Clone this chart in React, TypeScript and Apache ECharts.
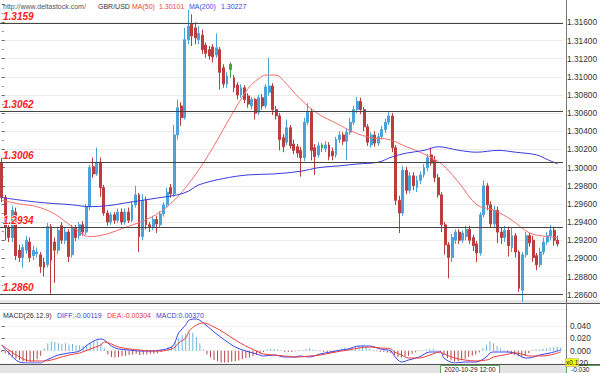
import React, { useEffect, useRef } from "react";
import * as echarts from "echarts";

// ---------------- DATA ----------------
const categoryCount = 160;
const categories: string[] = Array.from({ length: categoryCount }, (_, i) => String(i));

// [open, close, low, high]
const candles: number[][] = [
  [1.3005,1.2967,1.2962,1.3011],[1.2967,1.2934,1.2920,1.2970],[1.2934,1.2923,1.2918,1.2937],[1.2923,1.2953,1.2918,1.2958],
  [1.2951,1.2903,1.2898,1.2956],[1.2909,1.2901,1.2896,1.2915],[1.2901,1.2912,1.2890,1.2916],[1.2909,1.2920,1.2905,1.2925],
  [1.2918,1.2901,1.2896,1.2923],[1.2903,1.2909,1.2898,1.2914],[1.2905,1.2907,1.2901,1.2912],[1.2904,1.2891,1.2884,1.2907],
  [1.2896,1.2890,1.2880,1.2901],[1.2893,1.2935,1.2890,1.2939],[1.2935,1.2898,1.2861,1.2938],[1.2918,1.2909,1.2873,1.2923],
  [1.2909,1.2931,1.2905,1.2935],[1.2936,1.2920,1.2916,1.2940],[1.2920,1.2929,1.2916,1.2934],[1.2929,1.2902,1.2896,1.2932],
  [1.2904,1.2934,1.2901,1.2937],[1.2934,1.2923,1.2919,1.2937],[1.2925,1.2937,1.2921,1.2940],[1.2937,1.2929,1.2925,1.2941],
  [1.2929,1.2957,1.2926,1.2960],[1.2957,1.3000,1.2953,1.3003],[1.3001,1.2993,1.2989,1.3011],[1.2993,1.3006,1.2991,1.3022],
  [1.3006,1.2978,1.2968,1.3011],[1.2978,1.2950,1.2947,1.2981],[1.2950,1.2940,1.2936,1.2953],[1.2940,1.2948,1.2937,1.2951],
  [1.2948,1.2942,1.2938,1.2951],[1.2942,1.2951,1.2939,1.2955],[1.2951,1.2940,1.2937,1.2955],[1.2940,1.2951,1.2937,1.2955],
  [1.2951,1.2942,1.2939,1.2956],[1.2942,1.2959,1.2940,1.2963],[1.2959,1.2970,1.2956,1.2980],[1.2970,1.2924,1.2907,1.2972],
  [1.2924,1.2964,1.2920,1.2971],[1.2964,1.2937,1.2932,1.2968],[1.2937,1.2935,1.2929,1.2940],[1.2935,1.2943,1.2931,1.2947],
  [1.2943,1.2938,1.2928,1.2947],[1.2937,1.2949,1.2934,1.2952],[1.2949,1.2959,1.2946,1.2962],[1.2959,1.2973,1.2956,1.2978],
  [1.2978,1.2971,1.2967,1.2982],[1.2971,1.3036,1.2968,1.3047],[1.3036,1.3066,1.3031,1.3075],[1.3068,1.3055,1.3046,1.3072],
  [1.3055,1.3141,1.3053,1.3154],[1.3141,1.3156,1.3136,1.3174],[1.3158,1.3145,1.3134,1.3169],[1.3154,1.3143,1.3136,1.3160],
  [1.3141,1.3148,1.3136,1.3156],[1.3146,1.3130,1.3125,1.3152],[1.3135,1.3126,1.3121,1.3138],[1.3130,1.3123,1.3119,1.3134],
  [1.3133,1.3122,1.3116,1.3136],[1.3124,1.3132,1.3121,1.3148],[1.3130,1.3105,1.3086,1.3133],[1.3110,1.3092,1.3088,1.3114],
  [1.3092,1.3101,1.3088,1.3105],[1.3108,1.3114,1.3099,1.3116],[1.3099,1.3088,1.3083,1.3102],[1.3091,1.3080,1.3075,1.3094],
  [1.3080,1.3088,1.3077,1.3092],[1.3088,1.3075,1.3071,1.3091],[1.3079,1.3070,1.3066,1.3082],[1.3068,1.3075,1.3064,1.3078],
  [1.3075,1.3060,1.3053,1.3077],[1.3061,1.3077,1.3058,1.3080],[1.3077,1.3068,1.3064,1.3081],[1.3068,1.3089,1.3065,1.3092],
  [1.3083,1.3090,1.3079,1.3121],[1.3090,1.3064,1.3058,1.3093],[1.3064,1.3057,1.3053,1.3068],[1.3057,1.3031,1.3019,1.3060],
  [1.3033,1.3023,1.3017,1.3037],[1.3028,1.3044,1.3025,1.3053],[1.3044,1.3024,1.3021,1.3047],[1.3026,1.3019,1.3015,1.3031],
  [1.3023,1.3016,1.3011,1.3026],[1.3019,1.3011,1.2990,1.3023],[1.3011,1.3050,1.3007,1.3055],[1.3050,1.3061,1.3047,1.3071],
  [1.3061,1.3019,1.3008,1.3065],[1.3022,1.3012,1.2992,1.3026],[1.3014,1.3024,1.3011,1.3028],[1.3022,1.3025,1.3017,1.3027],
  [1.3021,1.3025,1.3017,1.3029],[1.3025,1.3012,1.3008,1.3028],[1.3018,1.3013,1.3008,1.3022],[1.3014,1.3031,1.3011,1.3034],
  [1.3031,1.3036,1.3027,1.3040],[1.3036,1.3029,1.3025,1.3039],[1.3029,1.3039,1.3008,1.3043],[1.3039,1.3050,1.3036,1.3055],
  [1.3050,1.3064,1.3047,1.3068],[1.3064,1.3073,1.3060,1.3078],[1.3073,1.3064,1.3059,1.3077],[1.3064,1.3045,1.3040,1.3067],
  [1.3045,1.3028,1.3024,1.3048],[1.3025,1.3036,1.3022,1.3039],[1.3036,1.3027,1.3023,1.3040],[1.3027,1.3034,1.3024,1.3038],
  [1.3034,1.3042,1.3031,1.3046],[1.3042,1.3050,1.3038,1.3054],[1.3050,1.3057,1.3047,1.3061],[1.3057,1.3022,1.3017,1.3060],
  [1.3022,1.2964,1.2959,1.3025],[1.2964,1.2950,1.2928,1.2969],[1.2950,1.2997,1.2947,1.3002],[1.2997,1.2975,1.2971,1.3001],
  [1.2975,1.2991,1.2972,1.2995],[1.2991,1.2980,1.2975,1.2995],[1.2978,1.2986,1.2973,1.2991],[1.2986,1.2992,1.2982,1.2996],
  [1.2992,1.3000,1.2989,1.3004],[1.3000,1.3011,1.2996,1.3015],[1.3014,1.3005,1.3002,1.3022],[1.3008,1.2989,1.2984,1.3013],
  [1.2989,1.2970,1.2967,1.2993],[1.2970,1.2937,1.2929,1.2973],[1.2937,1.2915,1.2904,1.2940],[1.2915,1.2901,1.2878,1.2918],
  [1.2901,1.2923,1.2896,1.2927],[1.2920,1.2929,1.2916,1.2932],[1.2929,1.2920,1.2916,1.2932],[1.2920,1.2928,1.2917,1.2931],
  [1.2924,1.2932,1.2920,1.2936],[1.2932,1.2920,1.2916,1.2936],[1.2923,1.2914,1.2908,1.2926],[1.2916,1.2906,1.2896,1.2919],
  [1.2906,1.2948,1.2903,1.2951],[1.2948,1.2980,1.2945,1.2986],[1.2980,1.2959,1.2953,1.2983],[1.2959,1.2938,1.2934,1.2963],
  [1.2938,1.2953,1.2934,1.2958],[1.2953,1.2929,1.2917,1.2957],[1.2929,1.2923,1.2916,1.2934],[1.2923,1.2931,1.2918,1.2936],
  [1.2931,1.2914,1.2902,1.2935],[1.2912,1.2925,1.2907,1.2934],[1.2925,1.2907,1.2901,1.2928],[1.2907,1.2867,1.2863,1.2909],
  [1.2865,1.2904,1.2852,1.2907],[1.2904,1.2925,1.2901,1.2929],[1.2925,1.2917,1.2913,1.2928],[1.2920,1.2901,1.2896,1.2925],
  [1.2903,1.2893,1.2887,1.2906],[1.2893,1.2907,1.2890,1.2912],[1.2907,1.2918,1.2904,1.2923],[1.2918,1.2925,1.2915,1.2929],
  [1.2925,1.2931,1.2920,1.2937],[1.2931,1.2920,1.2914,1.2935],[1.2920,1.2916,1.2913,1.2925],
];
const greenCandles: number[] = [65, 91];

const levels: number[] = [1.3159, 1.3062, 1.3006, 1.2934, 1.286];
const lastPrice = 1.2916;
const lastPriceLabel = "1.29160";

const priceMin = 1.286;
const priceMax = 1.318;
const priceStep = 0.002;

// [candle index, value]
const ma50: number[][] = [
  [0,1.2964],[5,1.2960],[10,1.2957],[15,1.2949],[20,1.2935],[25,1.2924],[30,1.2927],[35,1.2934],[40,1.2941],
  [45,1.2951],[50,1.2968],[55,1.2992],[60,1.3022],[65,1.3056],[70,1.3087],[73,1.3098],[75,1.3102],[78,1.3102],
  [80,1.3096],[85,1.3075],[90,1.3059],[95,1.3049],[100,1.3039],[105,1.3033],[110,1.3031],[115,1.3023],[120,1.3015],
  [125,1.3004],[130,1.2983],[135,1.2959],[140,1.2953],[145,1.2942],[150,1.2928],[155,1.2924],[158,1.2923],
];
const ma200: number[][] = [
  [0,1.2967],[10,1.2962],[20,1.2959],[25,1.2957],[30,1.2958],[35,1.2961],[40,1.2964],[45,1.2967],[50,1.2970],
  [53,1.2974],[56,1.2981],[63,1.2988],[70,1.2992],[77,1.2993],[85,1.2996],[90,1.3000],[96,1.3002],[101,1.3004],
  [107,1.3006],[111,1.3012],[115,1.3016],[120,1.3019],[124,1.3023],[130,1.3019],[135,1.3017],[141,1.3019],
  [146,1.3017],[152,1.3014],[155,1.3009],[158,1.3004],
];

// MACD panel (values as displayed on its axis, x0.1)
const macdHist: number[] = [
  -0.002,-0.004,-0.007,-0.010,-0.013,-0.015,-0.017,-0.018,-0.018,-0.017,-0.014,-0.008,
  0.004,0.012,0.015,0.014,0.012,0.011,0.012,0.010,0.011,0.009,0.009,0.008,0.010,0.013,0.015,0.016,0.012,0.004,
  -0.006,-0.010,-0.011,-0.010,-0.009,-0.008,-0.007,-0.006,-0.005,-0.007,-0.006,-0.006,-0.005,-0.005,-0.004,-0.002,
  0.002,0.006,0.008,0.014,0.020,0.025,0.028,0.030,0.029,0.022,0.012,0.002,
  -0.006,-0.011,-0.015,-0.017,-0.019,-0.019,-0.019,-0.018,-0.017,-0.016,-0.014,-0.012,-0.011,-0.009,-0.007,-0.005,-0.002,
  0.002,0.003,0.003,0.002,0.001,-0.002,-0.002,-0.002,-0.001,-0.001,0.001,0.003,0.004,0.002,0.001,
  -0.001,-0.002,-0.003,-0.003,-0.002,0.002,0.004,0.005,0.004,0.006,0.007,0.008,0.009,0.006,0.003,0.001,
  -0.001,-0.002,-0.002,-0.003,-0.004,-0.007,-0.010,-0.011,-0.009,-0.008,-0.005,-0.003,-0.001,
  0.001,0.002,0.003,0.003,0.001,-0.002,-0.007,-0.012,-0.016,-0.018,-0.017,-0.015,-0.013,-0.010,-0.008,-0.006,-0.003,
  0.004,0.010,0.015,0.012,0.008,0.004,0.001,-0.002,-0.005,-0.007,-0.009,-0.010,-0.008,-0.004,
  0.001,0.002,0.002,0.003,0.004,0.005,0.006,0.006,0.005,
];
const diff: number[][] = [
  [0,0.0092],[2,-0.0037],[5,-0.0183],[8,-0.0199],[11,-0.0199],[12,-0.0167],[14,-0.0118],[16,-0.0070],[19,-0.0037],
  [22,-0.0005],[25,0.0125],[28,0.0189],[29,0.0173],[31,0.0076],[33,0.0028],[36,0.0011],[39,-0.0005],[42,-0.0005],
  [45,0.0011],[48,0.0060],[49,0.0141],[50,0.0287],[52,0.0416],[53,0.0497],[55,0.0513],[57,0.0449],[60,0.0303],
  [63,0.0173],[66,0.0060],[69,-0.0005],[72,-0.0053],[74,-0.0086],[77,-0.0070],[80,-0.0102],[83,-0.0102],[84,-0.0086],
  [87,-0.0102],[90,-0.0053],[93,-0.0021],[96,0.0011],[98,0.0028],[101,0.0076],[104,0.0076],[107,0.0028],[110,-0.0005],
  [111,-0.0086],[113,-0.0183],[115,-0.0151],[118,-0.0102],[121,-0.0021],[124,-0.0021],[125,-0.0118],[128,-0.0199],
  [131,-0.0183],[134,-0.0183],[137,-0.0102],[138,-0.0037],[139,-0.0021],[142,-0.0021],[145,-0.0037],[148,-0.0118],
  [149,-0.0118],[152,-0.0070],[155,-0.0037],[158,0.0011],
];
const dea: number[][] = [
  [0,0.0092],[2,0.0011],[5,-0.0102],[8,-0.0167],[11,-0.0167],[12,-0.0167],[14,-0.0151],[16,-0.0118],[19,-0.0070],
  [22,-0.0037],[25,0.0028],[28,0.0092],[29,0.0141],[31,0.0108],[33,0.0060],[36,0.0028],[39,0.0011],[42,-0.0005],
  [45,-0.0005],[48,0.0028],[49,0.0060],[50,0.0125],[52,0.0206],[53,0.0319],[55,0.0416],[57,0.0449],[60,0.0384],
  [63,0.0287],[66,0.0173],[69,0.0076],[72,-0.0005],[74,-0.0053],[77,-0.0070],[80,-0.0086],[83,-0.0102],[84,-0.0102],
  [87,-0.0086],[90,-0.0070],[93,-0.0037],[96,-0.0005],[98,0.0011],[101,0.0044],[104,0.0060],[107,0.0044],[110,0.0028],
  [111,-0.0021],[113,-0.0070],[115,-0.0118],[118,-0.0118],[121,-0.0070],[124,-0.0021],[125,-0.0053],[128,-0.0118],
  [131,-0.0151],[134,-0.0167],[137,-0.0151],[138,-0.0134],[139,-0.0102],[142,-0.0070],[145,-0.0037],[148,-0.0070],
  [149,-0.0086],[152,-0.0086],[155,-0.0070],[158,-0.0021],
];
const macdMin = -0.02;
const macdMax = 0.06;
const macdStep = 0.02;

const headerTexts = [
  { text: "http://www.deltastock.com/", color: "#555555", x: 3 },
  { text: "GBR/USD", color: "#333333", x: 98 },
  { text: "MA(50)", color: "#ee4444", x: 132 },
  { text: "1.30101", color: "#ee4444", x: 159 },
  { text: "MA(200)", color: "#4646e6", x: 189 },
  { text: "1.30227", color: "#4646e6", x: 221 },
];
const macdHeader = [
  { text: "MACD(26.12.9)", color: "#333333", x: 3 },
  { text: "DIFF:-0.00119", color: "#3344dd", x: 57 },
  { text: "DEA:-0.00304", color: "#e83838", x: 107 },
  { text: "MACD:0.00370", color: "#3344dd", x: 156 },
];
const timeLabel = "2020-10-29 12:00";
const cursorValue = "-0.030";

// ---------------- CHART ----------------
const UP = "#4aa3d8";
const DOWN = "#bd3d3f";
const FONT = '"Liberation Sans", Arial, sans-serif';

export default function App() {
  const ref = useRef<HTMLDivElement>(null);
  useEffect(() => {
    if (!ref.current) return;
    const chart = echarts.init(ref.current, undefined, { renderer: "svg" });

    const candleData = candles.map((d, i) =>
      greenCandles.includes(i)
        ? { value: d, itemStyle: { color: "#3aa845", color0: "#3aa845", borderColor: "#3aa845", borderColor0: "#3aa845" } }
        : d
    );

    const txt = (t: { text: string; color: string; x: number }, y: number) => ({
      type: "text",
      x: t.x,
      y,
      z: 20,
      style: { text: t.text, fill: t.color, fontSize: 7, fontFamily: FONT, verticalAlign: "middle" },
    });

    const option: any = {
      animation: false,
      backgroundColor: "#ffffff",
      grid: [
        { left: 0, right: 34, top: 4.25, bottom: 78.3 },
        { left: 0, right: 34, top: 313.65, bottom: 9.95 },
      ],
      xAxis: [
        { type: "category", gridIndex: 0, data: categories, show: false, boundaryGap: true },
        { type: "value", gridIndex: 0, min: -0.5, max: categoryCount - 0.5, show: false },
        { type: "category", gridIndex: 1, data: categories, show: false, boundaryGap: true },
        { type: "value", gridIndex: 1, min: -0.5, max: categoryCount - 0.5, show: false },
      ],
      yAxis: [
        {
          type: "value",
          gridIndex: 0,
          position: "right",
          min: priceMin,
          max: priceMax,
          interval: priceStep,
          axisLine: { show: false },
          axisTick: { show: true, length: 3, lineStyle: { color: "#666" } },
          minorTick: { show: true, splitNumber: 2, length: 2, lineStyle: { color: "#888" } },
          axisLabel: {
            margin: 4,
            fontSize: 8.3,
            color: "#333",
            fontFamily: FONT,
            showMaxLabel: false,
            formatter: (v: number) => v.toFixed(5),
          },
          splitLine: { show: true, showMaxLine: false, lineStyle: { color: "#ebebeb", width: 1 } },
        },
        {
          type: "value",
          gridIndex: 1,
          position: "right",
          min: macdMin,
          max: macdMax,
          interval: macdStep,
          axisLine: { show: false },
          axisTick: { show: true, length: 3, lineStyle: { color: "#666" } },
          axisLabel: {
            margin: 4,
            fontSize: 8.3,
            color: "#333",
            fontFamily: FONT,
            showMaxLabel: false,
            showMinLabel: false,
            formatter: (v: number) => v.toFixed(3),
          },
          splitLine: { show: true, showMaxLine: false, lineStyle: { color: "#f1f1f1", width: 1 } },
        },
      ],
      series: [
        {
          type: "candlestick",
          xAxisIndex: 0,
          yAxisIndex: 0,
          data: candleData,
          barWidth: 2.4,
          clip: false,
          z: 2,
          itemStyle: { color: UP, color0: DOWN, borderColor: UP, borderColor0: DOWN, borderWidth: 1 },
        },
        {
          type: "line",
          xAxisIndex: 1,
          yAxisIndex: 0,
          data: ma50,
          smooth: 0.35,
          symbol: "none",
          z: 4,
          lineStyle: { color: "#f26d6d", width: 1 },
          markLine: {
            silent: true,
            precision: 4,
            z: 12,
            symbol: ["none", "none"],
            lineStyle: { opacity: 0 },
            label: {
              show: true,
              position: "end",
              distance: 1,
              offset: [0, 3],
              formatter: lastPriceLabel,
              color: "#222",
              backgroundColor: "#e27c7c",
              padding: [0, 2, 0, 2],
              lineHeight: 9,
              fontSize: 8.3,
              fontFamily: FONT,
            },
            data: [{ yAxis: lastPrice }],
          },
        },
        {
          type: "line",
          xAxisIndex: 1,
          yAxisIndex: 0,
          data: ma200,
          smooth: 0.35,
          symbol: "none",
          z: 5,
          lineStyle: { color: "#3b3bdc", width: 1 },
          markLine: {
            silent: true,
            precision: 4,
            z: 10,
            symbol: ["none", "none"],
            lineStyle: { color: "#454545", width: 1, type: "solid" },
            label: {
              show: true,
              position: "insideStartTop",
              distance: [3, 2],
              formatter: (p: any) => Number(p.value).toFixed(4),
              color: "#ff2020",
              textBorderColor: "#ffffff",
              textBorderWidth: 1.5,
              fontSize: 10,
              fontWeight: "bold",
              fontStyle: "italic",
              fontFamily: FONT,
            },
            data: levels.map((v) => ({ yAxis: v })),
          },
        },
        {
          type: "bar",
          xAxisIndex: 2,
          yAxisIndex: 1,
          barWidth: 1,
          data: macdHist.map((v) => ({ value: v, itemStyle: { color: v >= 0 ? "#6db6df" : "#b5474a" } })),
        },
        {
          type: "line",
          xAxisIndex: 3,
          yAxisIndex: 1,
          data: diff,
          smooth: 0.35,
          symbol: "none",
          z: 4,
          lineStyle: { color: "#3a44f0", width: 1 },
        },
        {
          type: "line",
          xAxisIndex: 3,
          yAxisIndex: 1,
          data: dea,
          smooth: 0.35,
          symbol: "none",
          z: 4,
          lineStyle: { color: "#f03c3c", width: 1 },
        },
      ],
      graphic: [
        ...headerTexts.map((t) => txt(t, 6)),
        ...macdHeader.map((t) => txt(t, 315)),
        { type: "rect", z: 0, shape: { x: 0, y: 300, width: 600, height: 3 }, style: { fill: "#e6e6e6" } },
        { type: "line", z: 1, shape: { x1: 0, y1: 303.5, x2: 600, y2: 303.5 }, style: { stroke: "#555", lineWidth: 1 } },
        { type: "line", z: 1, shape: { x1: 566.5, y1: 0, x2: 566.5, y2: 373 }, style: { stroke: "#777", lineWidth: 1 } },
        { type: "line", z: 1, shape: { x1: 0, y1: 309.5, x2: 566, y2: 309.5 }, style: { stroke: "#ececec", lineWidth: 1 } },
        { type: "line", z: 1, shape: { x1: 0, y1: 364.5, x2: 600, y2: 364.5 }, style: { stroke: "#555", lineWidth: 1 } },
        { type: "rect", z: 0, shape: { x: 0, y: 365, width: 600, height: 8 }, style: { fill: "#e4e4e4" } },
        { type: "rect", z: 20, shape: { x: 440.5, y: 365.5, width: 59, height: 9 }, style: { fill: "#ffffff", stroke: "#5aa55a", lineWidth: 1 } },
        { type: "text", z: 21, x: 470, y: 369.5, style: { text: timeLabel, fill: "#222", fontSize: 6.5, fontFamily: FONT, align: "center", verticalAlign: "middle" } },
        { type: "rect", z: 20, shape: { x: 566.5, y: 365.5, width: 34, height: 9 }, style: { fill: "#ffffff", stroke: "#5aa55a", lineWidth: 1 } },
        { type: "text", z: 21, x: 571, y: 369.5, style: { text: cursorValue, fill: "#222", fontSize: 6.5, fontFamily: FONT, verticalAlign: "middle" } },
        { type: "rect", z: 20, shape: { x: 565.5, y: 358.5, width: 13, height: 8 }, style: { fill: "#ffff00", stroke: "#999", lineWidth: 0.5 } },
        { type: "text", z: 21, x: 566, y: 362.5, style: { text: "x0.1", fill: "#111", fontSize: 6.5, fontFamily: FONT, verticalAlign: "middle" } },
        { type: "text", z: 21, x: 579, y: 362.5, style: { text: "20", fill: "#333", fontSize: 8.3, fontFamily: FONT, verticalAlign: "middle" } },
      ],
    };

    chart.setOption(option);
    return () => chart.dispose();
  }, []);

  return (
    <div
      ref={ref}
      style={{ position: "absolute", left: 0, top: 0, width: 600, height: 373, background: "#fff" }}
    />
  );
}
